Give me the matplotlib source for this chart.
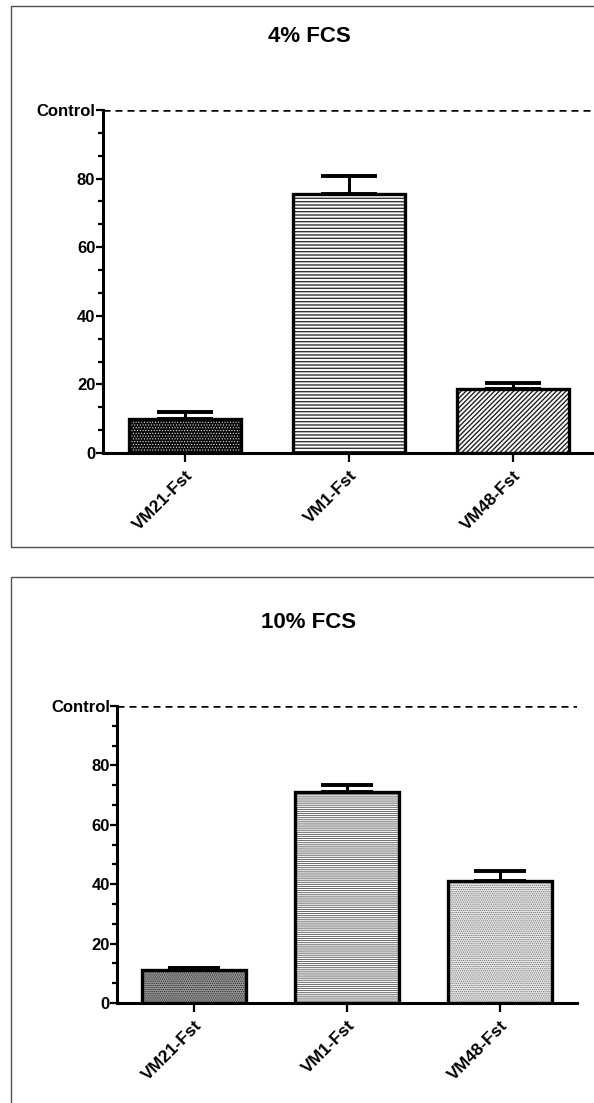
import matplotlib
matplotlib.use("Agg")
import matplotlib.pyplot as plt
from matplotlib.patches import Rectangle
from matplotlib.ticker import MultipleLocator, FixedLocator

plt.rcParams["font.family"] = ["Liberation Sans", "DejaVu Sans"]
plt.rcParams["font.weight"] = "bold"
plt.rcParams["hatch.linewidth"] = 1.0

# Data: % of control, mean and upper error (SEM)
categories = ["VM21-Fst", "VM1-Fst", "VM48-Fst"]
fcs4_mean = [10.0, 75.5, 18.7]
fcs4_err = [2.0, 5.2, 1.6]
fcs10_mean = [11.2, 71.0, 41.0]
fcs10_err = [0.5, 2.4, 3.3]
ytick_values = [0, 20, 40, 60, 80, 100]
ytick_labels = ["0", "20", "40", "60", "80", "Control"]
panel_titles = ["4% FCS", "10% FCS"]

W, H = 594, 1103
fig = plt.figure(figsize=(W / 100, H / 100), dpi=100)


def px_axes(left, right, top, bottom):
    return fig.add_axes([left / W, 1 - bottom / H, (right - left) / W, (bottom - top) / H])


def panel_box(x0, y0, x1, y1):
    fig.patches.append(Rectangle((x0 / W, 1 - y1 / H), (x1 - x0) / W, (y1 - y0) / H,
                                 transform=fig.transFigure, fill=False,
                                 edgecolor="#505050", linewidth=1.0))


def draw_panel(ax, means, errs, styles, capsize, bar_width):
    x = list(range(len(categories)))
    for i, (m, st) in enumerate(zip(means, styles)):
        fill = ax.bar(x[i], m, width=bar_width, facecolor=st["face"],
                      edgecolor=st["hatchcolor"], hatch=st["hatch"], linewidth=0, zorder=2)
        for p in fill:
            if hasattr(p, "set_hatch_linewidth"):
                p.set_hatch_linewidth(st["hlw"])
        ax.bar(x[i], m, width=bar_width, facecolor="none", edgecolor="black",
               linewidth=2.4, zorder=3)
    ax.errorbar(x, means, yerr=[[0] * len(errs), errs], fmt="none", ecolor="black",
                elinewidth=2.2, capsize=capsize, capthick=2.8, zorder=1)
    ax.axhline(100, color="black", linewidth=1.8, dashes=(2.8, 2.0), zorder=1)
    ax.set_xlim(-0.5, len(categories) - 0.5)
    ax.set_ylim(0, 100)
    for s in ("top", "right"):
        ax.spines[s].set_visible(False)
    for s in ("left", "bottom"):
        ax.spines[s].set_linewidth(2.2)
    ax.set_xticks(x)
    ax.set_xticklabels(categories, rotation=45, ha="right", rotation_mode="anchor",
                       fontsize=12.5, fontweight="bold")
    ax.yaxis.set_major_locator(FixedLocator(ytick_values))
    ax.set_yticklabels(ytick_labels, fontsize=12, fontweight="bold")
    ax.yaxis.set_minor_locator(MultipleLocator(20 / 3))
    ax.tick_params(axis="y", which="major", length=5, width=1.6, pad=0.5)
    ax.tick_params(axis="y", which="minor", length=3.5, width=1.6)
    ax.tick_params(axis="x", which="major", length=6.5, width=1.6, pad=4)
    ax.set_facecolor("none")


# Upper panel
panel_box(11, 6, 640, 547)
ax1 = px_axes(103, 595, 110, 453)
styles1 = [
    {"face": "#0a0a0a", "hatchcolor": "white", "hatch": "......", "hlw": 0.4},
    {"face": "white", "hatchcolor": "#333333", "hatch": "-----", "hlw": 1.0},
    {"face": "white", "hatchcolor": "#222222", "hatch": "///////", "hlw": 1.0},
]
draw_panel(ax1, fcs4_mean, fcs4_err, styles1, capsize=20.5, bar_width=0.68)
fig.text(309 / W, 1 - 36 / H, panel_titles[0], ha="center", va="center",
         fontsize=16, fontweight="bold")

# Lower panel
panel_box(11, 577, 640, 1140)
ax2 = px_axes(117.5, 576.5, 706, 1003)
styles2 = [
    {"face": "#9a9a9a", "hatchcolor": "#202020", "hatch": "........", "hlw": 0.6},
    {"face": "white", "hatchcolor": "#505050", "hatch": "--------", "hlw": 0.6},
    {"face": "#e4e4e4", "hatchcolor": "#6a6a6a", "hatch": "........", "hlw": 0.5},
]
draw_panel(ax2, fcs10_mean, fcs10_err, styles2, capsize=19, bar_width=0.68)
fig.text(309 / W, 1 - 623 / H, panel_titles[1], ha="center", va="center",
         fontsize=16, fontweight="bold")

fig.savefig("out.png", dpi=100)
